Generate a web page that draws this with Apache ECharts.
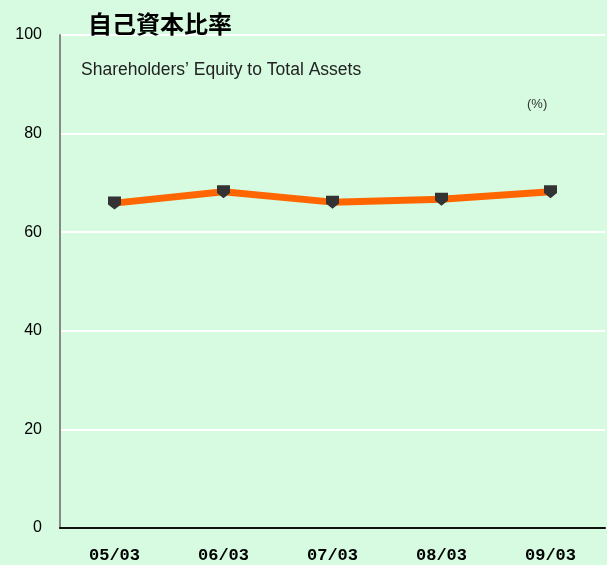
<!DOCTYPE html>
<html>
<head>
<meta charset="utf-8">
<script src="https://cdn.jsdelivr.net/npm/echarts@6/dist/echarts.min.js"></script>
<style>
  html, body { margin: 0; padding: 0; background: #d6fbe0; }
  #chart { width: 607px; height: 565px; }
</style>
</head>
<body>
<div id="chart"></div>
<script>
const categories = ["05/03", "06/03", "07/03", "08/03", "09/03"];
const equityRatio = [65.9, 68.2, 66.1, 66.7, 68.2];

const chart = echarts.init(document.getElementById("chart"));
chart.setOption({
  backgroundColor: "#d6fbe0",
  animation: false,
  title: [
    {
      text: "自己資本比率",
      left: 88,
      top: 12,
      padding: 0,
      textStyle: { fontFamily: "Noto Sans CJK JP", fontSize: 24, fontWeight: "bold", color: "#000" },
    },
    {
      text: "Shareholders’ Equity to Total Assets",
      left: 81,
      top: 61,
      padding: 0,
      textStyle: { fontFamily: "Liberation Sans", fontSize: 17.5, fontWeight: "normal", color: "#222" },
    },
    {
      text: "(%)",
      left: 527,
      top: 98,
      padding: 0,
      textStyle: { fontFamily: "Liberation Sans", fontSize: 13, fontWeight: "normal", color: "#333" },
    },
  ],
  grid: { left: 60, right: 2, top: 35, bottom: 37 },
  xAxis: {
    type: "category",
    data: categories,
    boundaryGap: true,
    axisLine: { lineStyle: { color: "#111", width: 2 } },
    axisTick: { inside: true, length: 6, lineStyle: { color: "#111", width: 2 } },
    axisLabel: {
      margin: 19,
      fontFamily: "Liberation Mono",
      fontSize: 17,
      fontWeight: "bold",
      color: "#000",
    },
  },
  yAxis: {
    type: "value",
    min: 0,
    max: 100,
    interval: 20,
    axisLine: { show: true, lineStyle: { color: "#888", width: 2 } },
    axisTick: { show: false },
    axisLabel: { margin: 18, fontFamily: "Liberation Sans", fontSize: 16, color: "#000" },
    splitLine: { lineStyle: { color: "#ffffff", width: 2 } },
  },
  series: [
    {
      type: "line",
      data: equityRatio,
      symbol: "path://M0,0 L10,0 L10,6 L5,10 L0,6 Z",
      symbolSize: 13,
      itemStyle: { color: "#333333" },
      lineStyle: { color: "#ff6600", width: 7 },
      z: 3,
    },
  ],
});
</script>
</body>
</html>
